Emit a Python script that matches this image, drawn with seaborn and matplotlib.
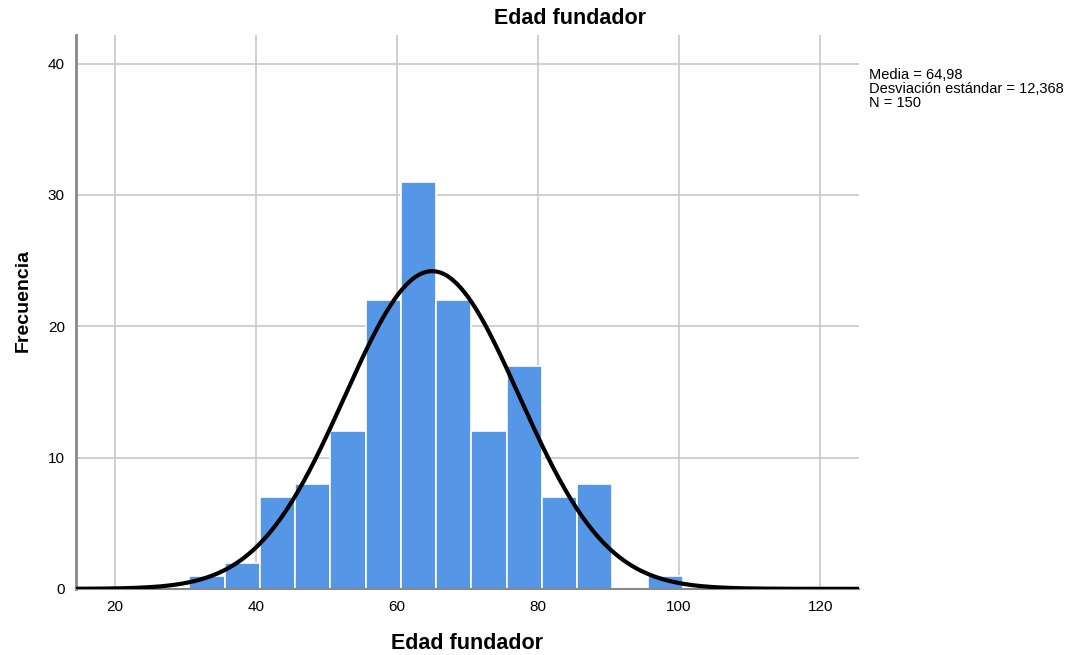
import numpy as np
import pandas as pd
import matplotlib
matplotlib.use("Agg")
import matplotlib.pyplot as plt
import seaborn as sns

# Bin counts (width 5)
bin_start = 30.55
bin_width = 5
counts = [1, 2, 7, 8, 12, 22, 31, 22, 12, 17, 7, 8, 0, 1]
media = 64.98
desv = 12.368
n = 150

edges = [bin_start + bin_width * i for i in range(len(counts) + 1)]
centers = [e + bin_width / 2 for e in edges[:-1]]
df = pd.DataFrame({"edad": centers, "freq": counts})

sns.set_style("whitegrid")
plt.rcParams['font.family'] = ['Liberation Sans', 'DejaVu Sans']
plt.rcParams['text.color'] = 'black'
plt.rcParams['axes.labelcolor'] = 'black'
plt.rcParams['xtick.color'] = 'black'
plt.rcParams['ytick.color'] = 'black'

fig = plt.figure(figsize=(10.71, 6.55), dpi=100)
ax = fig.add_axes([0.071, 0.101, 0.731, 0.846])

sns.histplot(data=df, x="edad", weights="freq", bins=edges, color="#5596e6",
             alpha=1, edgecolor="white", linewidth=1.2, ax=ax, zorder=2)

# Normal curve scaled to the histogram
xs = np.linspace(14.5, 125.5, 400)
ys = n * bin_width / (desv * np.sqrt(2 * np.pi)) * np.exp(-0.5 * ((xs - media) / desv) ** 2)
sns.lineplot(x=xs, y=ys, color="black", linewidth=3, ax=ax, zorder=3)

ax.set_xlim(14.5, 125.5)
ax.set_ylim(0, 42.2)
ax.set_xticks([20, 40, 60, 80, 100, 120])
ax.set_yticks([0, 10, 20, 30, 40])
ax.grid(True, color="#c8c8c8", linewidth=1.2)
ax.set_axisbelow(True)
ax.tick_params(labelsize=11, length=0, pad=8)

for s in ["top", "right"]:
    ax.spines[s].set_visible(False)
ax.spines["left"].set_color("#888888")
ax.spines["left"].set_linewidth(2)
ax.spines["bottom"].set_color("#888888")
ax.spines["bottom"].set_linewidth(1.5)

fig.text(0.532, 0.972, "Edad fundador", fontsize=15.5, fontweight="bold",
         ha="center", va="center")
ax.set_xlabel("Edad fundador", fontsize=15.5, fontweight="bold", labelpad=14)
ax.set_ylabel("Frecuencia", fontsize=14, fontweight="bold")
ax.yaxis.set_label_coords(-0.056, 0.52)

fig.text(0.811, 0.896, "Media = 64,98\nDesviación estándar = 12,368\nN = 150",
         fontsize=10.5, va="top", ha="left", linespacing=1.0)

fig.savefig("out.png", dpi=100)
